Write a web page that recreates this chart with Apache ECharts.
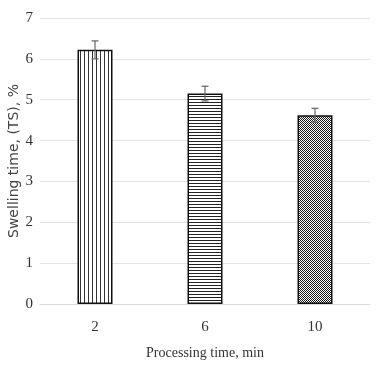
<!DOCTYPE html>
<html><head><meta charset="utf-8">
<script src="https://cdn.jsdelivr.net/npm/echarts@6/dist/echarts.min.js"></script>
<style>html,body{margin:0;padding:0;background:#fff}#c{width:380px;height:383px}</style>
</head><body><div id="c"></div>
<script>
var categories = ['2', '6', '10'];
var values = [6.22, 5.15, 4.62];
var errors = [0.22, 0.18, 0.17];
var yTicks = [0, 1, 2, 3, 4, 5, 6, 7];

function makePattern(kind) {
  var c = document.createElement('canvas');
  var ctx;
  if (kind === 'v') {
    c.width = 4; c.height = 4; ctx = c.getContext('2d');
    ctx.fillStyle = '#fff'; ctx.fillRect(0,0,4,4);
    ctx.fillStyle = '#333'; ctx.fillRect(0,0,1,4);
  } else if (kind === 'h') {
    c.width = 4; c.height = 3; ctx = c.getContext('2d');
    ctx.fillStyle = '#fff'; ctx.fillRect(0,0,4,3);
    ctx.fillStyle = '#222'; ctx.fillRect(0,0,4,1);
  } else {
    c.width = 4; c.height = 4; ctx = c.getContext('2d');
    ctx.fillStyle = '#fff'; ctx.fillRect(0,0,4,4);
    ctx.fillStyle = '#1a1a1a';
    for (var i = 0; i < 4; i++) {
      ctx.fillRect(i % 4, i, 1, 1);
      ctx.fillRect((i + 2) % 4, i, 1, 1);
    }
  }
  return {image: c, repeat: 'repeat'};
}
var patterns = [makePattern('v'), makePattern('h'), makePattern('d')];

var chart = echarts.init(document.getElementById('c'));
var font = '"Liberation Serif", "DejaVu Serif", serif';
chart.setOption({
  animation: false,
  grid: {left: 40, right: 10, top: 18, bottom: 79, outerBoundsMode: 'none', containLabel: false},
  xAxis: {
    type: 'category', data: categories,
    axisLine: {lineStyle: {color: '#d9d9d9'}},
    axisTick: {show: false},
    axisLabel: {color: '#333', fontFamily: font, fontSize: 15, margin: 16},
    name: 'Processing time, min', nameLocation: 'middle', nameGap: 42,
    nameTextStyle: {color: '#333', fontFamily: font, fontSize: 14}
  },
  yAxis: {
    type: 'value', min: 0, max: 7, interval: 1,
    axisLine: {show: false}, axisTick: {show: false},
    splitLine: {lineStyle: {color: '#e3e3e3'}},
    axisLabel: {color: '#333', fontFamily: font, fontSize: 15, margin: 7,
      formatter: function (v) { return yTicks.indexOf(v) >= 0 ? String(v) : ''; }},
    name: 'Swelling time, (TS), %', nameLocation: 'middle', nameGap: 19, nameRotate: 90,
    nameMoveOverlap: false,
    nameTextStyle: {color: '#444', fontFamily: '"DejaVu Sans", sans-serif', fontSize: 14}
  },
  series: [{
    type: 'bar', barWidth: 35,
    data: values.map(function (v, i) {
      return {value: v, itemStyle: {color: patterns[i], borderColor: '#111', borderWidth: 1.5}};
    })
  }, {
    type: 'custom',
    data: values.map(function (v, i) { return [i, v - errors[i], v + errors[i]]; }),
    renderItem: function (params, api) {
      var lo = api.coord([api.value(0), api.value(1)]);
      var hi = api.coord([api.value(0), api.value(2)]);
      var x = hi[0], w = 3.5;
      var st = {stroke: '#666', lineWidth: 1.2};
      return {type: 'group', children: [
        {type: 'line', shape: {x1: x, y1: hi[1], x2: x, y2: lo[1]}, style: st},
        {type: 'line', shape: {x1: x - w, y1: hi[1], x2: x + w, y2: hi[1]}, style: st},
        {type: 'line', shape: {x1: x - w, y1: lo[1], x2: x + w, y2: lo[1]}, style: st}
      ]};
    },
    z: 10
  }]
});
</script></body></html>
